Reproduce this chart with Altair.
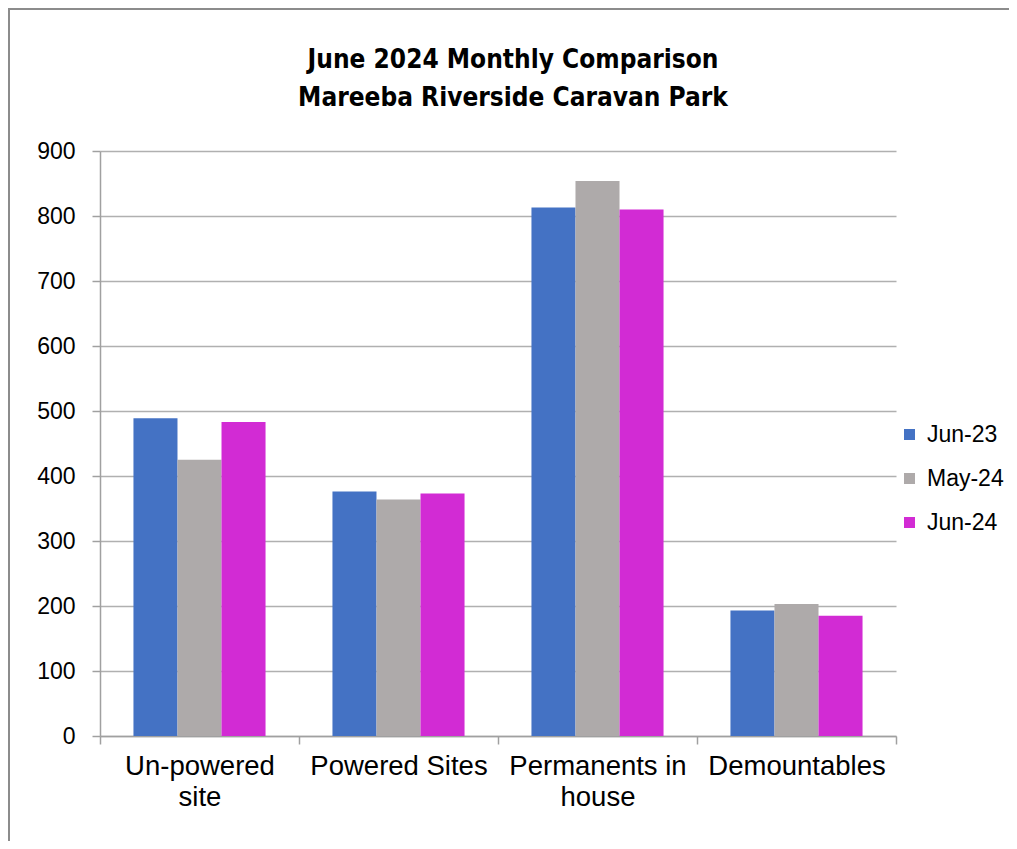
import altair as alt
import pandas as pd

categories = ["Un-powered site", "Powered Sites", "Permanents in house", "Demountables"]
series = ["Jun-23", "May-24", "Jun-24"]
jun23 = [489, 376, 813, 193]
may24 = [425, 364, 854, 203]
jun24 = [483, 373, 810, 185]
colors = ["#4472C4", "#AEAAAA", "#D22BD4"]
y_ticks = [0, 100, 200, 300, 400, 500, 600, 700, 800, 900]
title_lines = ["June 2024  Monthly Comparison", "Mareeba Riverside Caravan Park"]

rows = []
for s, vals in zip(series, [jun23, may24, jun24]):
    for c, v in zip(categories, vals):
        rows.append({"category": c, "series": s, "value": v})
df = pd.DataFrame(rows)

W, H = 796, 585
PAD = {"left": 92, "top": 143, "right": 113, "bottom": 105}
AXIS_GRAY = "#A0A0A0"
FONT = "Liberation Sans, Arial, sans-serif"

label_expr = ("datum.value == 'Un-powered site' ? ['Un-powered', 'site'] : "
              "datum.value == 'Permanents in house' ? ['Permanents in', 'house'] : datum.value")

bars = alt.Chart(df).mark_bar().encode(
    x=alt.X("category:N", sort=categories,
            scale=alt.Scale(paddingInner=0, paddingOuter=0),
            axis=alt.Axis(title=None, labelExpr=label_expr, tickBand="extent",
                          labelAngle=0, labelFontSize=27.5, labelLineHeight=31,
                          labelPadding=8, tickSize=8, grid=False)),
    xOffset=alt.XOffset("series:N", sort=series,
                        scale=alt.Scale(paddingOuter=0.76, paddingInner=0)),
    y=alt.Y("value:Q", scale=alt.Scale(domain=[0, 900]),
            axis=alt.Axis(title=None, values=y_ticks, labelFontSize=23,
                          labelPadding=17, tickSize=8, grid=True,
                          gridColor="#B0B0B0", gridWidth=1.3)),
    color=alt.Color("series:N", sort=series,
                    scale=alt.Scale(domain=series, range=colors),
                    legend=alt.Legend(title=None, orient="none", legendX=798, legendY=272,
                                      symbolType="square", symbolSize=121,
                                      symbolStrokeWidth=0, labelFontSize=23,
                                      labelFont=FONT, labelColor="black",
                                      rowPadding=20, labelOffset=6, padding=0)),
)

frame_left = alt.Chart(alt.Data(values=[{"k": 1}])).mark_rule(
    color="#8C8C8C", strokeWidth=2
).encode(x=alt.value(-91), y=alt.value(-143), y2=alt.value(H + 105))

frame_top = alt.Chart(alt.Data(values=[{"k": 1}])).mark_rule(
    color="#8C8C8C", strokeWidth=2
).encode(x=alt.value(-92), x2=alt.value(W + 113), y=alt.value(-142))

chart = alt.layer(bars, frame_left, frame_top).properties(
    width=W, height=H,
    autosize=alt.AutoSizeParams(type="none"),
    padding=PAD,
    title=alt.TitleParams(text=title_lines,
                          font="Liberation Sans Narrow, DejaVu Sans Condensed, Liberation Sans",
                          fontSize=26, fontWeight="bold", color="black",
                          anchor="middle", dx=15, offset=-104, lineHeight=38),
).configure_view(stroke=None).configure_axis(
    labelFont=FONT, labelColor="black",
    domainColor=AXIS_GRAY, tickColor=AXIS_GRAY, domainWidth=1.5, tickWidth=1.5,
)

chart.save("out.html", embed_options={"renderer": "svg", "actions": False})
